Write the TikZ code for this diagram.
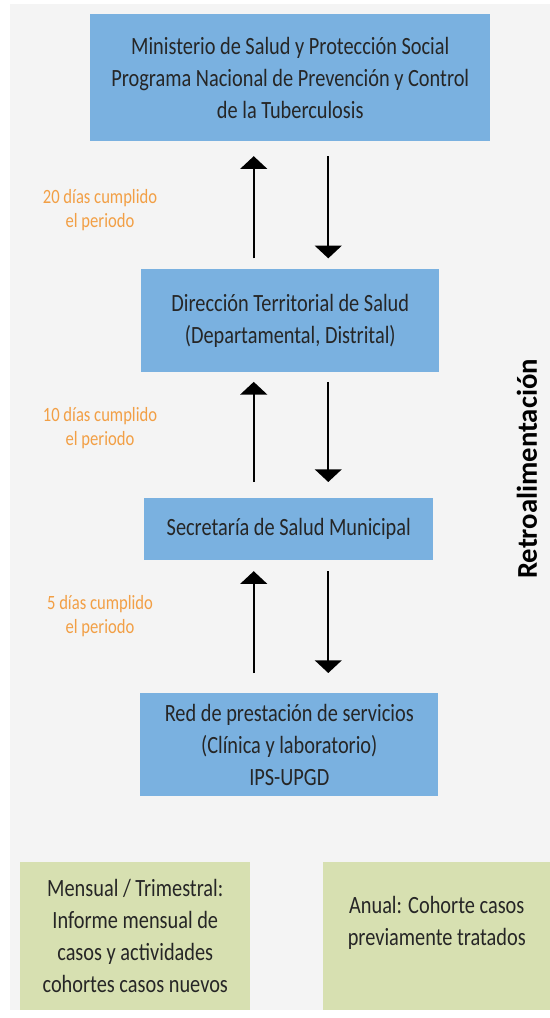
\documentclass[tikz,border=0pt]{standalone}
\usepackage{fontspec}
\setmainfont{Carlito}[FakeStretch=0.82]
\newfontfamily\widefont{Carlito}
\usetikzlibrary{arrows.meta}

\definecolor{panelgray}{HTML}{F4F4F4}
\definecolor{levelblue}{HTML}{7AB1E0}
\definecolor{notegreen}{HTML}{D7E0B1}
\definecolor{dayorange}{HTML}{F29F45}
\definecolor{inkgray}{HTML}{262626}

\tikzset{
  level/.style={fill=levelblue, text=inkgray, align=center, inner sep=0pt,
    anchor=north west, font=\fontsize{18.6}{24}\selectfont},
  note/.style={fill=notegreen, text=inkgray, align=center, inner sep=0pt,
    anchor=north west, font=\fontsize{18.6}{24}\selectfont},
  days/.style={text=dayorange, align=center, inner sep=0pt,
    font=\fontsize{15.2}{18}\selectfont},
  flow/.style={line width=1.6pt, -{Triangle[width=20pt,length=9.5pt]}},
}

\begin{document}
\begin{tikzpicture}[x=0.75pt,y=-0.75pt]

\useasboundingbox (0,0) rectangle (550,1018);
\fill[panelgray] (10,4) rectangle (550,1010);

% levels of the reporting chain
\node[level, minimum width=300pt, minimum height=95.25pt, text depth=0pt] (ministerio) at (90,14)
  {Ministerio de Salud y Protección Social\\Programa Nacional de Prevención y Control\\de la Tuberculosis};
\node[level, minimum width=223.5pt, minimum height=77.25pt] (direccion) at (141,269)
  {Dirección Territorial de Salud\\(Departamental, Distrital)};
\node[level, minimum width=216.75pt, minimum height=46.5pt] (secretaria) at (144,498)
  {Secretaría de Salud Municipal};
\node[level, minimum width=223.5pt, minimum height=77.25pt] (red) at (140,693)
  {Red de prestación de servicios\\(Clínica y laboratorio)\\IPS-UPGD};

% report periods
\node[days] (lbl20) at (100,210) {20 días cumplido\\el periodo};
\node[days] (lbl10) at (100,428) {10 días cumplido\\el periodo};
\node[days] (lbl5) at (100,616) {5 días cumplido\\el periodo};

% reports up, feedback down
\draw[flow, shorten <=8pt, shorten >=11pt] ([xshift=-27.4pt]direccion.north) -- ([xshift=-27.4pt]direccion.north |- ministerio.south);
\draw[flow, shorten <=11pt, shorten >=8pt] ([xshift=28.5pt]direccion.north |- ministerio.south) -- ([xshift=28.5pt]direccion.north);
\draw[flow, shorten <=12pt, shorten >=7pt] ([xshift=-27.4pt]direccion.south |- secretaria.north) -- ([xshift=-27.4pt]direccion.south);
\draw[flow, shorten <=7pt, shorten >=12pt] ([xshift=28.5pt]direccion.south) -- ([xshift=28.5pt]direccion.south |- secretaria.north);
\draw[flow, shorten <=15pt, shorten >=8pt] ([xshift=-27.4pt]direccion.south |- red.north) -- ([xshift=-27.4pt]direccion.south |- secretaria.south);
\draw[flow, shorten <=8pt, shorten >=15pt] ([xshift=28.5pt]direccion.south |- secretaria.south) -- ([xshift=28.5pt]direccion.south |- red.north);

\node[rotate=90, text=black, font=\widefont\bfseries\fontsize{21.5}{24}\selectfont] (retro) at (527,469) {Retroalimentación};

% cohort notes
\node[note, minimum width=172.5pt, minimum height=111pt] (mensual) at (20,862)
  {Mensual / Trimestral:\\Informe mensual de\\casos y actividades\\cohortes casos nuevos};
\node[note, minimum width=170.25pt, minimum height=111pt, text depth=23pt] (anual) at (323,862)
  {Anual: Cohorte casos\\previamente tratados};

\end{tikzpicture}
\end{document}
